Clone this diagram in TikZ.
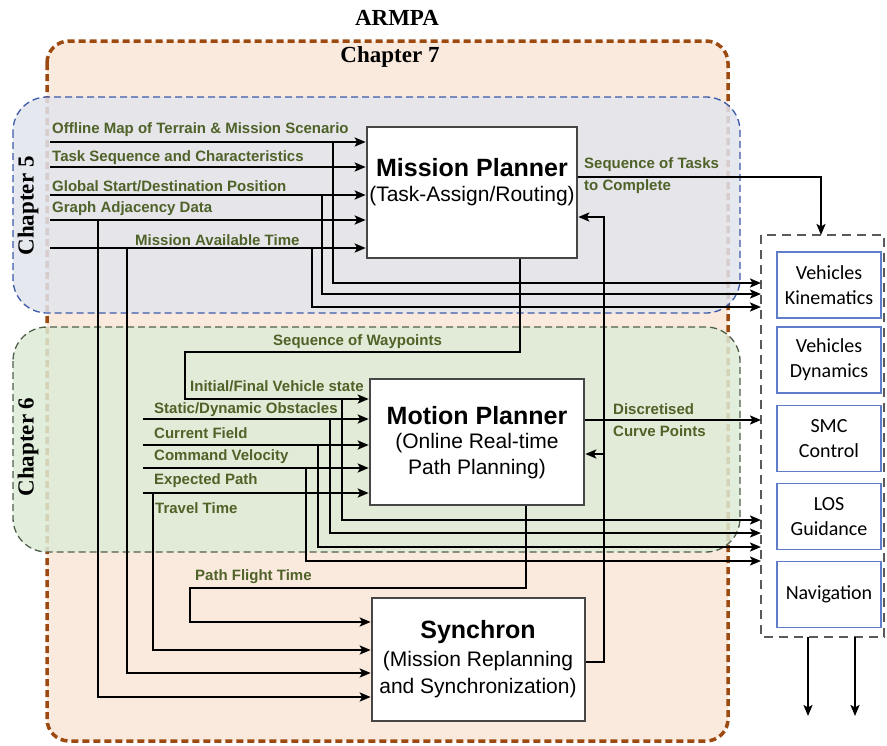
\documentclass[tikz,border=0pt]{standalone}
\usepackage{fontspec}
\setmainfont{Liberation Serif}
\setsansfont{Liberation Sans}
\newfontfamily\calib{Carlito}
\usetikzlibrary{arrows.meta}
\definecolor{lblgreen}{RGB}{79,98,40}
\definecolor{chsevb}{RGB}{156,74,16}
\definecolor{chsevf}{RGB}{250,234,222}
\definecolor{chfivb}{RGB}{60,90,170}
\definecolor{chfivf}{RGB}{226,229,237}
\definecolor{chsixb}{RGB}{80,95,75}
\definecolor{chsixf}{RGB}{222,236,214}
\definecolor{boxgray}{RGB}{70,70,70}
\definecolor{subblue}{RGB}{95,125,200}
\definecolor{contgray}{RGB}{90,90,90}
\begin{document}
\begin{tikzpicture}[x=1pt,y=-1pt,
  >={Stealth[length=11pt,width=9pt,inset=2.5pt]},
  wire/.style={line width=2.2pt,black},
  arr/.style={wire,->},
  lbl/.style={text=lblgreen,font=\fontsize{15}{17}\selectfont\sffamily\bfseries,anchor=west,inner sep=0pt},
  mainbox/.style={draw=boxgray,line width=2.6pt,fill=white,inner sep=0pt},
  titletext/.style={font=\fontsize{25}{29}\selectfont\sffamily\bfseries,inner sep=0pt},
  subtext/.style={font=\fontsize{21}{25}\selectfont\sffamily,inner sep=0pt},
  subbox/.style={draw=subblue,line width=1.2pt,fill=white,inner sep=0pt,
     minimum width=104pt,font=\fontsize{20}{25}\selectfont\calib,align=center},
  chap/.style={font=\fontsize{23}{26}\selectfont\rmfamily\bfseries,inner sep=0pt}]
\useasboundingbox (0,0) rectangle (887,745);
\fill[white] (0,0) rectangle (887,745);

% chapter regions
\draw[draw=chsevb,fill=chsevf,line width=3.5pt,dash pattern=on 7pt off 4pt,rounded corners=22pt]
  (47,41) rectangle (728,741);
\draw[draw=chfivb,fill=chfivf,fill opacity=0.85,line width=1.3pt,dash pattern=on 7pt off 4pt,rounded corners=34pt]
  (13,97) rectangle (740,313);
\draw[draw=chsixb,fill=chsixf,fill opacity=0.85,line width=1.3pt,dash pattern=on 7pt off 4pt,rounded corners=34pt]
  (13,327) rectangle (740,552);

\node[chap] (armpa) at (397,18) {ARMPA};
\node[chap] (ch7) at (390,57) {Chapter 7};
\node[chap,rotate=90] (ch5) at (28,206) {Chapter 5};
\node[chap,rotate=90] (ch6) at (28,447) {Chapter 6};

% main boxes
\node[mainbox,minimum width=210pt,minimum height=131pt] (mp) at (472,192.5) {};
\node[titletext] (mpt) at (472,168) {Mission Planner};
\node[subtext] (mps) at (472,196) {(Task-Assign/Routing)};

\node[mainbox,minimum width=214pt,minimum height=126pt] (mo) at (477,442) {};
\node[titletext] (mot) at (477,416) {Motion Planner};
\node[subtext] (mos1) at (477,443) {(Online Real-time};
\node[subtext] (mos2) at (477,469) {Path Planning)};

\node[mainbox,minimum width=213pt,minimum height=123pt] (sy) at (478.5,659.5) {};
\node[titletext] (syt) at (478,632) {Synchron};
\node[subtext] (sys1) at (478,661) {(Mission Replanning};
\node[subtext] (sys2) at (478,688) {and Synchronization)};

% right container
\draw[draw=contgray,line width=2.6pt,dash pattern=on 9pt off 6pt,fill=white]
  (761,235) rectangle (884,637);
\coordinate (rcw) at (761,235);
\coordinate (rcn) at (821,235);
\coordinate (rcs1) at (808,637);
\coordinate (rcs2) at (855,637);
\node[subbox,minimum height=66pt] (vk) at (829,285) {Vehicles\\Kinematics};
\node[subbox,minimum height=66pt] (vd) at (829,360) {Vehicles\\Dynamics};
\node[subbox,minimum height=66pt] (smc) at (829,438.5) {SMC\\Control};
\node[subbox,minimum height=66pt] (los) at (829,516.5) {LOS\\Guidance};
\node[subbox,minimum height=66pt] (nav) at (829,594.5) {Navigation};

% mission planner inputs
\coordinate (a1) at (50,142);
\coordinate (a2) at (50,167);
\coordinate (a3) at (50,195);
\coordinate (a4) at (50,220);
\coordinate (a5) at (50,248);
\foreach \c in {a1,a2,a3,a4,a5} \draw[arr] (\c) -- (\c -| mp.west);
\node[lbl] (l1) at (52,130) {Offline Map of Terrain \& Mission Scenario};
\node[lbl] (l2) at (52,158) {Task Sequence and Characteristics};
\node[lbl] (l3) at (52,186) {Global Start/Destination Position};
\node[lbl] (l4) at (52,209) {Graph Adjacency Data};
\node[lbl] (l5) at (135,240) {Mission Available Time};

% branches to vehicles kinematics
\draw[arr] (333,142) |- (rcw |- 0,283);
\draw[arr] (322,195) |- (rcw |- 0,294);
\draw[arr] (312,248) |- (rcw |- 0,307);

% branches to synchron
\draw[arr] (98,220) |- (sy.west |- 0,697);
\draw[arr] (127,248) |- (sy.west |- 0,673);

% sequence of tasks
\draw[arr] (mp.east |- 0,177) -| (rcn);
\node[lbl] (l6) at (584,165) {Sequence of Tasks};
\node[lbl] (l7) at (584,187) {to Complete};

% sequence of waypoints
\draw[arr] (mp.south -| 520,0) -- (520,352) -- (185,352) -- (185,399) -- (mo.west |- 0,399);
\node[lbl] (l8) at (273,342) {Sequence of Waypoints};
\node[lbl] (l9) at (190,386) {Initial/Final Vehicle state};

% motion planner inputs
\coordinate (b1) at (143,419);
\coordinate (b2) at (143,445);
\coordinate (b3) at (143,468);
\coordinate (b4) at (143,493);
\foreach \c in {b1,b2,b3,b4} \draw[arr] (\c) -- (\c -| mo.west);
\node[lbl] (l10) at (154,410) {Static/Dynamic Obstacles};
\node[lbl] (l11) at (154,433) {Current Field};
\node[lbl] (l12) at (154,457) {Command Velocity};
\node[lbl] (l13) at (154,481) {Expected Path};
\node[lbl] (l14) at (155,508) {Travel Time};

% branches to LOS guidance
\draw[arr] (342,399) |- (rcw |- 0,520);
\draw[arr] (330,419) |- (rcw |- 0,533);
\draw[arr] (318,445) |- (rcw |- 0,547);
\draw[arr] (306,468) |- (rcw |- 0,561);

% expected path to synchron
\draw[arr] (153,493) |- (sy.west |- 0,650);

% path flight time
\draw[arr] (mo.south -| 526,0) -- (526,588) -- (190,588) -- (190,622) -- (sy.west |- 0,622);
\node[lbl] (l15) at (195,577) {Path Flight Time};

% discretised curve points
\draw[arr] (mo.east |- 0,420) -- (rcw |- 0,420);
\node[lbl] (l16) at (613,409) {Discretised};
\node[lbl] (l17) at (613,431) {Curve Points};

% synchron feedback
\draw[arr] (sy.east |- 0,662) -- (604,662) -- (604,217) -- (mp.east |- 0,217);
\draw[arr] (604,454) -- (mo.east |- 0,454);

% outputs
\draw[arr] (rcs1) -- (808,716);
\draw[arr] (rcs2) -- (855,716);
\end{tikzpicture}
\end{document}
